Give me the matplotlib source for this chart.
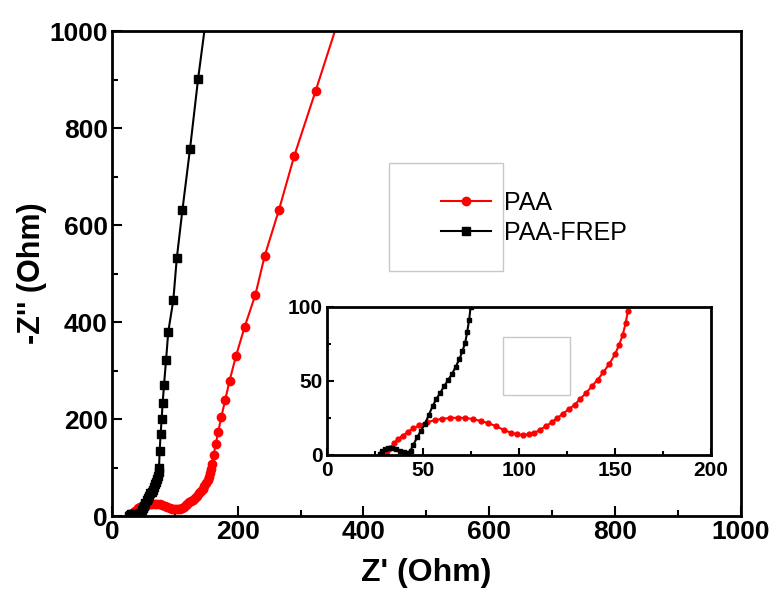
# Nyquist plot, PAA vs PAA-FREP, with a zoomed inset

import matplotlib
matplotlib.use('Agg')
import matplotlib.pyplot as plt
from matplotlib.patches import Rectangle
from matplotlib.ticker import MultipleLocator

plt.rcParams['font.family'] = ['Liberation Sans', 'DejaVu Sans']

# PAA (red circles), Z' and -Z'' in Ohm
paa_re = [30.5, 31.5, 33, 35, 37, 39.5, 42, 45, 48, 52, 56, 60, 64, 68, 72, 76,
          80, 84, 88, 92, 96, 99, 102, 105, 108, 111, 114, 117, 120, 123, 126,
          129, 132, 135, 138, 141, 144, 147, 150, 152, 154, 155.5, 156.7, 158.5,
          161.5, 165, 169, 174, 180, 187, 197, 211, 228, 243, 265.5, 290, 324, 362]
paa_im = [0.5, 2.5, 5, 8, 10.5, 13, 15.5, 18, 20, 22, 23.5, 24.5, 25, 25.2, 25,
          24.3, 23, 21.5, 19.5, 17, 15, 14, 13.5, 14, 15, 17, 19.5, 22, 25, 28,
          31, 34, 38, 42, 46.5, 51, 56, 61.5, 68, 74, 81, 89, 97, 108,
          125, 148, 174, 205, 239, 279, 329, 390, 456, 537, 631, 743, 877, 1030]

# PAA-FREP (black squares)
frep_re = [27.4, 28.5, 30, 32, 34, 36, 38, 40, 42, 43.5, 45, 47, 49, 51, 53, 55,
           57, 59, 61, 63, 65, 67, 69, 70.5, 72, 73, 74, 74.8,
           75.8, 77.4, 79, 80.5, 82.7, 86, 89.5, 97.5, 103, 112, 124, 137, 152]
frep_im = [1, 2.8, 4, 4.7, 4.5, 3.8, 2.8, 1.8, 1.5, 3, 7, 12, 16.5, 21, 27, 33,
           38, 42, 46.5, 50.5, 54.5, 59.5, 65, 70, 76, 83, 91, 100,
           135, 170, 201, 232, 270, 322, 380, 445, 531, 631, 756, 902, 1050]

RED = '#ff0000'
GRAY = '#c8c8c8'

fig = plt.figure(figsize=(7.8, 5.94), dpi=100)
ax = fig.add_axes([0.1436, 0.1313, 0.806, 0.8165])

l1, = ax.plot(paa_re, paa_im, '-o', color=RED, lw=1.5, ms=6, mec=RED, label='PAA')
l2, = ax.plot(frep_re, frep_im, '-s', color='black', lw=1.5, ms=5.5, label='PAA-FREP')

ax.set_xlim(0, 1000)
ax.set_ylim(0, 1000)
ax.xaxis.set_major_locator(MultipleLocator(200))
ax.xaxis.set_minor_locator(MultipleLocator(100))
ax.yaxis.set_major_locator(MultipleLocator(200))
ax.yaxis.set_minor_locator(MultipleLocator(100))
ax.tick_params(which='both', direction='in', width=1.5, top=False, right=False)
ax.tick_params(which='major', length=7, labelsize=19, pad=3)
ax.tick_params(which='minor', length=4)
for lab in ax.get_xticklabels() + ax.get_yticklabels():
    lab.set_fontweight('bold')
for s in ax.spines.values():
    s.set_linewidth(2)
ax.set_xlabel("Z' (Ohm)", fontsize=23, fontweight='bold', labelpad=10)
ax.set_ylabel("-Z'' (Ohm)", fontsize=22, fontweight='bold', labelpad=2)

# legend with its light gray frame
fig.patches.append(Rectangle((389 / 780, 1 - 271 / 594), 114 / 780, 108 / 594,
                             transform=fig.transFigure, fill=False,
                             edgecolor=GRAY, lw=1))
fig.legend(handles=[l1, l2], loc='upper left', frameon=False,
           bbox_to_anchor=(428 / 780, 1 - 178 / 594), borderpad=0,
           fontsize=18, handlelength=2.0, handletextpad=0.55, labelspacing=0.25)

# inset
ins = fig.add_axes([327 / 780, 1 - 455 / 594, 384 / 780, 148 / 594])
ins.plot(paa_re, paa_im, '-o', color=RED, lw=1.5, ms=3.5, mec=RED)
ins.plot(frep_re, frep_im, '-s', color='black', lw=1.5, ms=3.2)
ins.set_xlim(0, 200)
ins.set_ylim(0, 100)
ins.xaxis.set_major_locator(MultipleLocator(50))
ins.xaxis.set_minor_locator(MultipleLocator(25))
ins.yaxis.set_major_locator(MultipleLocator(50))
ins.yaxis.set_minor_locator(MultipleLocator(25))
ins.tick_params(which='both', direction='in', width=1.5, top=False, right=False)
ins.tick_params(which='major', length=5, labelsize=15)
ins.tick_params(axis='x', which='major', pad=4)
ins.tick_params(axis='y', which='major', pad=3)
ins.tick_params(which='minor', length=3)
for lab in ins.get_xticklabels() + ins.get_yticklabels():
    lab.set_fontweight('bold')
for s in ins.spines.values():
    s.set_linewidth(2)

# empty gray box inside the inset
fig.patches.append(Rectangle((503 / 780, 1 - 395 / 594), 67 / 780, 58 / 594,
                             transform=fig.transFigure, fill=False,
                             edgecolor=GRAY, lw=1))

fig.savefig('out.png', dpi=100)
